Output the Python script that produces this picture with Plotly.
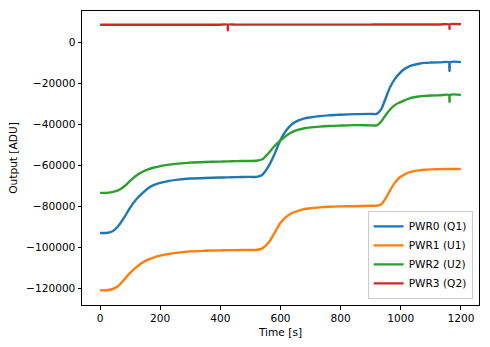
import plotly.graph_objects as go

time_s = [0, 20, 40, 60, 80, 100, 120, 140, 160, 180, 200, 230, 260, 300, 350, 400,
          424, 425, 426, 450, 500, 520, 540, 560, 580, 600, 620, 640, 660, 680, 700,
          730, 760, 800, 850, 900, 920, 935, 950, 965, 980, 995, 1010, 1025, 1040,
          1060, 1080, 1100, 1130, 1161, 1162, 1163, 1200]

pwr0_q1 = [-93000, -93000, -92300, -89700, -85500, -80600, -76600, -73600, -71100, -69500,
           -68500, -67500, -66900, -66400, -66100, -65900, -65800, -65800, -65800, -65700,
           -65600, -65600, -64500, -60500, -54500, -47500, -42700, -39600, -38000, -37000,
           -36500, -35900, -35500, -35200, -34900, -34800, -34800, -32500, -27000, -21500,
           -17800, -15100, -13100, -11800, -11000, -10300, -9850, -9700, -9600, -9600,
           -13800, -9600, -9500]

pwr1_u1 = [-121000, -121000, -120500, -119000, -115800, -112500, -109800, -107600, -106000,
           -104900, -104100, -103200, -102600, -102000, -101700, -101500, -101400, -101400,
           -101400, -101400, -101300, -101300, -100500, -97800, -93000, -88000, -85000,
           -83100, -82100, -81300, -80900, -80500, -80200, -80000, -79900, -79700, -79700,
           -79000, -76000, -72000, -68500, -66000, -64600, -63500, -62900, -62400, -62100,
           -61900, -61800, -61700, -61700, -61700, -61700]

pwr2_u2 = [-73400, -73400, -73000, -72200, -70300, -67500, -65000, -63200, -61900, -61000,
           -60300, -59600, -59100, -58600, -58300, -58100, -58000, -58000, -58000, -57900,
           -57800, -57700, -57000, -54000, -50500, -47700, -45300, -43600, -42500, -41800,
           -41400, -41000, -40700, -40500, -40300, -40400, -40400, -38500, -35300, -32500,
           -30500, -29300, -28300, -27400, -26800, -26300, -26000, -25800, -25700, -25600,
           -28900, -25600, -25500]

pwr3_q2 = [8800, 8800, 8800, 8800, 8800, 8800, 8800, 8800, 8800, 8800, 8800, 8800, 8800,
           8800, 8800, 8800, 8800, 6100, 8800, 8850, 8850, 8850, 8850, 8850, 8850, 8850,
           8850, 8850, 8850, 8850, 8850, 8850, 8850, 8850, 8850, 8850, 8900, 8900, 8900,
           8900, 8900, 8900, 8900, 8900, 8900, 8900, 8900, 8900, 8900, 8950, 6800, 8950, 9000]

series_names = ["PWR0 (Q1)", "PWR1 (U1)", "PWR2 (U2)", "PWR3 (Q2)"]
series_values = [pwr0_q1, pwr1_u1, pwr2_u2, pwr3_q2]
series_colors = ["#1f77b4", "#ff7f0e", "#2ca02c", "#d62728"]

x_tick_vals = [0, 200, 400, 600, 800, 1000, 1200]
y_tick_vals = [0, -20000, -40000, -60000, -80000, -100000, -120000]
y_tick_text = ["0", "\u221220000", "\u221240000", "\u221260000", "\u221280000",
               "\u2212100000", "\u2212120000"]

FONT = "DejaVu Sans"
FS = 10.6

fig = go.Figure()
for name, vals, col in zip(series_names, series_values, series_colors):
    fig.add_trace(go.Scatter(x=time_s, y=vals, mode="lines", name=name,
                             line=dict(color=col, width=2.4, shape="spline", smoothing=0.7)))

axis_common = dict(showline=True, mirror=True, linecolor="black", linewidth=1,
                   ticks="outside", ticklen=3.5, tickwidth=0.8, tickcolor="black",
                   showgrid=False, zeroline=False,
                   tickfont=dict(family=FONT, size=FS, color="black"))

fig.update_xaxes(range=[-60, 1260], tickvals=x_tick_vals,
                 title=dict(text="Time [s]", font=dict(family=FONT, size=FS, color="black"),
                            standoff=5),
                 **axis_common)
fig.update_yaxes(range=[-128200, 15500], tickvals=y_tick_vals, ticktext=y_tick_text,
                 title=dict(text="Output [ADU]", font=dict(family=FONT, size=FS, color="black"),
                            standoff=6),
                 **axis_common)

fig.update_layout(
    width=490, height=347,
    margin=dict(l=82, r=10, t=11, b=40),
    paper_bgcolor="white", plot_bgcolor="white",
    font=dict(family=FONT, size=FS, color="black"),
    legend=dict(x=0.984, y=0.021, xanchor="right", yanchor="bottom",
                bgcolor="rgba(255,255,255,0.8)", bordercolor="#cccccc", borderwidth=1,
                font=dict(family=FONT, size=FS, color="black"),
                tracegroupgap=0, itemwidth=30),
    showlegend=True,
)

fig.write_html("out.html")
